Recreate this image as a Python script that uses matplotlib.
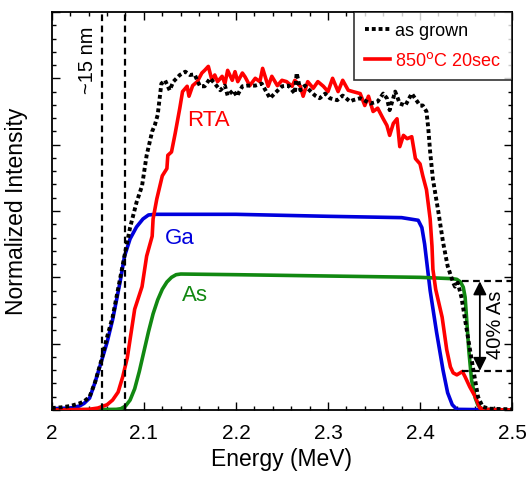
import matplotlib
matplotlib.use("Agg")
import matplotlib.pyplot as plt
from matplotlib.ticker import MultipleLocator

plt.rcParams['font.family'] = ['Liberation Sans', 'DejaVu Sans']

# ---------------- DATA ----------------
# as grown (black dotted)
grown_e = [2.000, 2.010, 2.020, 2.030, 2.035, 2.041, 2.047, 2.054, 2.060, 2.066,
           2.073, 2.080, 2.085, 2.092, 2.098, 2.103, 2.109, 2.112, 2.115, 2.119,
           2.123, 2.128, 2.132, 2.139, 2.145, 2.150, 2.155, 2.161, 2.166, 2.172,
           2.177, 2.183, 2.188, 2.191, 2.197, 2.201, 2.207, 2.212, 2.221, 2.228,
           2.237, 2.242, 2.250, 2.257, 2.264, 2.266, 2.270, 2.275, 2.280, 2.286,
           2.291, 2.297, 2.302, 2.310, 2.316, 2.324, 2.327, 2.335, 2.346, 2.354,
           2.360, 2.364, 2.367, 2.373, 2.378, 2.384, 2.391, 2.397, 2.400, 2.403,
           2.407, 2.409, 2.411, 2.414, 2.420, 2.425, 2.430, 2.436, 2.438, 2.441,
           2.445, 2.452, 2.458, 2.463, 2.468, 2.475, 2.500]
grown_y = [0.03, 0.04, 0.06, 0.10, 0.13, 0.20, 0.42, 0.76, 1.10, 1.40,
           1.90, 2.40, 2.75, 3.13, 3.38, 3.84, 4.20, 4.30, 4.45, 4.92,
           4.97, 4.82, 4.95, 5.05, 5.10, 5.05, 5.06, 4.88, 4.88, 5.00,
           4.92, 4.82, 4.89, 4.74, 4.82, 4.73, 4.88, 4.89, 4.89, 4.92,
           4.70, 4.77, 4.88, 4.89, 4.77, 5.08, 4.82, 4.89, 4.82, 4.74,
           4.70, 4.77, 4.70, 4.67, 4.74, 4.65, 4.67, 4.70, 4.62, 4.65,
           4.77, 4.70, 4.52, 4.80, 4.62, 4.59, 4.77, 4.65, 4.59, 4.59,
           4.50, 4.24, 3.89, 3.48, 2.98, 2.53, 2.17, 1.92, 1.86, 1.92,
           1.70, 1.10, 0.60, 0.20, 0.05, 0.02, 0.01]

# 850C 20sec RTA (red)
rta_e = [2.000, 2.040, 2.050, 2.060, 2.066, 2.072, 2.077, 2.082, 2.090, 2.098,
         2.103, 2.109, 2.110, 2.114, 2.120, 2.125, 2.126, 2.130, 2.134, 2.139,
         2.142, 2.147, 2.149, 2.153, 2.158, 2.163, 2.166, 2.170, 2.174, 2.177,
         2.180, 2.185, 2.188, 2.191, 2.196, 2.199, 2.202, 2.207, 2.210, 2.215,
         2.221, 2.226, 2.229, 2.235, 2.239, 2.245, 2.250, 2.255, 2.261, 2.264,
         2.270, 2.273, 2.278, 2.284, 2.289, 2.295, 2.300, 2.305, 2.311, 2.316,
         2.322, 2.327, 2.335, 2.340, 2.344, 2.349, 2.354, 2.360, 2.364, 2.367,
         2.371, 2.375, 2.378, 2.382, 2.386, 2.391, 2.395, 2.400, 2.403, 2.407,
         2.411, 2.413, 2.414, 2.417, 2.424, 2.429, 2.433, 2.436, 2.440, 2.446,
         2.449, 2.454, 2.460, 2.465, 2.470, 2.500]
rta_y = [0.00, 0.01, 0.03, 0.08, 0.15, 0.27, 0.50, 0.79, 1.52, 1.86,
         2.32, 2.62, 2.88, 3.18, 3.53, 3.64, 3.84, 3.89, 4.17, 4.55,
         4.80, 4.88, 4.73, 4.89, 4.95, 5.08, 5.12, 5.18, 4.97, 5.05,
         4.95, 5.03, 4.92, 5.12, 4.97, 5.10, 4.95, 5.08, 5.02, 4.89,
         5.00, 4.95, 5.15, 4.88, 5.03, 4.89, 4.97, 4.95, 4.88, 4.97,
         4.88, 4.73, 4.95, 4.85, 4.95, 4.88, 4.80, 5.00, 4.80, 4.97,
         4.82, 4.80, 4.77, 4.59, 4.73, 4.50, 4.55, 4.39, 4.29, 4.14,
         4.32, 4.39, 3.97, 4.14, 4.09, 4.12, 3.79, 3.71, 3.53, 3.32,
         2.88, 2.47, 2.12, 1.82, 1.40, 0.91, 0.65, 0.56, 0.53, 0.58,
         0.50, 0.35, 0.20, 0.03, 0.01, 0.00]

# Ga (blue)
ga_e = [2.000, 2.020, 2.030, 2.035, 2.041, 2.047, 2.054, 2.060, 2.066, 2.074,
        2.079, 2.085, 2.092, 2.099, 2.105, 2.112, 2.120, 2.200, 2.300, 2.380,
        2.398, 2.402, 2.405, 2.411, 2.418, 2.425, 2.430, 2.435, 2.440, 2.500]
ga_y = [0.02, 0.03, 0.06, 0.10, 0.18, 0.42, 0.74, 1.02, 1.36, 1.92,
        2.32, 2.58, 2.76, 2.88, 2.94, 2.95, 2.95, 2.95, 2.92, 2.90,
        2.86, 2.75, 2.50, 1.80, 1.17, 0.60, 0.26, 0.08, 0.01, 0.00]

# As (green)
as_e = [2.000, 2.070, 2.075, 2.080, 2.085, 2.090, 2.095, 2.100, 2.105, 2.110,
        2.115, 2.120, 2.125, 2.130, 2.135, 2.140, 2.200, 2.300, 2.400, 2.435,
        2.440, 2.444, 2.447, 2.449, 2.451, 2.453, 2.456, 2.460, 2.463, 2.468,
        2.500]
as_y = [0.00, 0.01, 0.02, 0.06, 0.15, 0.32, 0.58, 0.88, 1.18, 1.45,
        1.66, 1.82, 1.93, 2.00, 2.04, 2.05, 2.04, 2.02, 2.00, 1.98,
        1.97, 1.93, 1.85, 1.70, 1.30, 0.90, 0.45, 0.18, 0.07, 0.01,
        0.00]

# markers
edge_lines = [2.054, 2.080]          # ~15 nm window
as_levels = [1.94, 0.59]             # 40% As drop
# ---------------------------------------------------------------

fig = plt.figure(figsize=(5.29, 4.79), dpi=100)
ax = fig.add_axes([0.098, 0.144, 0.870, 0.831])

ax.plot(grown_e, grown_y, color='black', linewidth=2.8,
        linestyle=(0, (1.0, 0.75)), dash_capstyle='butt', label='as grown', zorder=5)
ax.plot(rta_e, rta_y, color='red', linewidth=2.6, label='850$^{\\rm o}$C 20sec', zorder=4)
ax.plot(ga_e, ga_y, color='#0000dd', linewidth=2.6, zorder=3)
ax.plot(as_e, as_y, color='#118811', linewidth=2.6, zorder=3)

for e in edge_lines:
    ax.axvline(e, color='black', linewidth=1.6, linestyle=(0, (3, 2)), zorder=6)
ax.text(2.039, 5.27, '~15 nm', rotation=90, ha='center', va='center', fontsize=14.5)

for lv in as_levels:
    ax.plot([2.446, 2.5], [lv, lv], color='black', linewidth=1.6,
            linestyle=(0, (3, 2)), zorder=6)
ax.annotate('', xy=(2.465, as_levels[1]), xytext=(2.465, as_levels[0]),
            arrowprops=dict(arrowstyle='<|-|>', color='black', lw=1.3,
                            mutation_scale=20, shrinkA=0, shrinkB=0), zorder=7)
ax.text(2.482, 1.28, '40% As', rotation=90, ha='center', va='center', fontsize=14.5)

ax.text(2.17, 4.36, 'RTA', color='red', fontsize=16, ha='center', va='center')
ax.text(2.139, 2.58, 'Ga', color='#0000dd', fontsize=16, ha='center', va='center')
ax.text(2.155, 1.73, 'As', color='#118811', fontsize=16, ha='center', va='center')

ax.set_xlim(2.0, 2.5)
ax.set_ylim(0, 6)
ax.xaxis.set_major_locator(MultipleLocator(0.1))
ax.xaxis.set_minor_locator(MultipleLocator(0.02))
ax.yaxis.set_major_locator(MultipleLocator(1))
ax.yaxis.set_minor_locator(MultipleLocator(0.2))
ax.set_xticks([2.0, 2.1, 2.2, 2.3, 2.4, 2.5], ['2', '2.1', '2.2', '2.3', '2.4', '2.5'])
ax.set_yticklabels([])
ax.tick_params(which='both', direction='in', top=True, right=True, labelsize=15)
ax.tick_params(which='major', length=6, width=1)
ax.tick_params(which='minor', length=3, width=1)
ax.tick_params(axis='x', pad=10)
for s in ax.spines.values():
    s.set_linewidth(1.3)

ax.set_xlabel('Energy (MeV)', fontsize=16.5, labelpad=4)
ax.set_ylabel('Normalized Intensity', fontsize=16.5, labelpad=14)

leg = ax.legend(loc='upper right', fontsize=13, frameon=True, fancybox=False,
                edgecolor='black', borderaxespad=0, handlelength=1.4,
                handletextpad=0.3, borderpad=0.6, labelspacing=0.65)
leg.get_frame().set_linewidth(1.2)
leg.get_texts()[1].set_color('red')

fig.savefig('out.png', dpi=100)
